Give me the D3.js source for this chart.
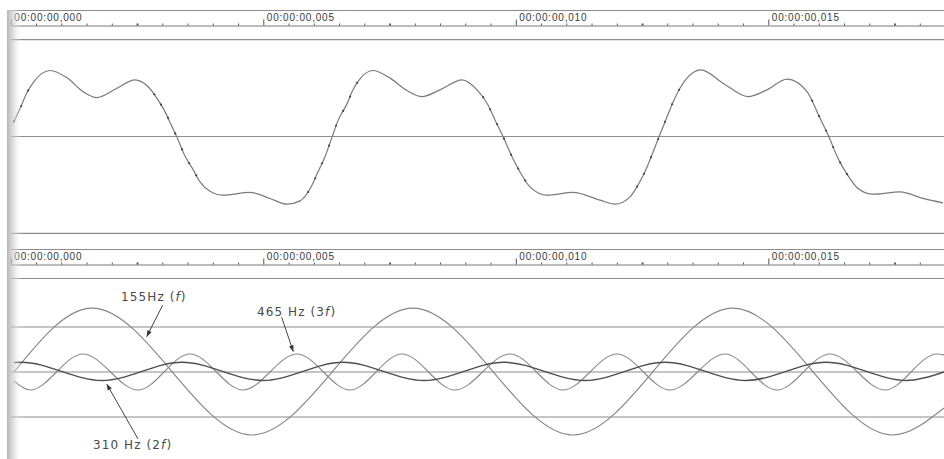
<!DOCTYPE html>
<html><head><meta charset="utf-8">
<script src="https://cdn.jsdelivr.net/npm/d3@7"></script>
<style>
html,body{margin:0;padding:0;background:#fff;}
svg{display:block;}
</style></head><body>
<svg id="chart" width="944" height="459"></svg>
<script>
// ---------- time ruler (ms) ----------
const rulerLabelTimes = [0, 5, 10, 15];
const rulerLabels = ["00:00:00,000", "00:00:00,005", "00:00:00,010", "00:00:00,015"];
const rulerMinorStep = 0.5;   // ms between small ticks
const timeDomain = [0, 18.5]; // ms visible

// ---------- top panel: composite waveform (time ms, level % of full scale) ----------
const compositeTimes = [0.044,0.196,0.321,0.459,0.776,1.113,1.430,1.701,2.103,2.459,2.717,2.915,3.053,3.192,3.291,3.450,3.608,3.747,3.945,4.202,4.737,5.133,5.469,5.727,5.964,6.083,6.222,6.360,6.479,6.657,6.776,6.915,7.172,7.509,7.846,8.143,8.499,8.935,9.232,9.430,9.588,9.749,9.925,10.083,10.281,10.618,11.133,11.667,11.964,12.261,12.418,12.557,12.695,12.834,12.992,13.133,13.251,13.667,14.103,14.598,14.974,15.370,15.766,16.004,16.202,16.380,16.558,16.776,17.073,17.608,18.063,18.459];
const compositeValues = [13.7,30.6,45.4,56.8,68.2,60.6,46.4,40.2,49.9,58.5,51.6,37.8,25.7,10.2,-0.8,-20.2,-34.0,-46.8,-56.5,-60.6,-57.8,-64.0,-69.9,-66.5,-50.3,-36.5,-20.9,-0.8,16.4,33.7,48.2,59.6,68.2,60.3,47.5,41.2,48.2,58.5,48.2,34.4,17.1,-0.2,-20.9,-36.5,-52.0,-60.6,-57.8,-65.8,-69.9,-62.4,-50.3,-36.5,-19.2,-0.5,19.9,37.8,49.9,68.9,55.1,41.2,48.2,59.3,46.4,21.2,-0.5,-22.6,-38.9,-53.7,-59.6,-57.2,-64.0,-68.6];

// ---------- bottom panel: the three partials (time ms, level %) ----------
const f155Times  = [0.063, 1.608, 4.776, 7.964, 11.133, 14.301, 17.465, 18.479];
const f155Values = [0, 71, -70, 71, -70, 71, -70, -40];

const f310Times  = [0.063, 0.202, 1.806, 3.390, 4.994, 6.578, 8.182, 9.766, 11.370, 12.954, 14.558, 16.143, 17.743, 18.479];
const f310Values = [10.5, 10.8, -9.4, 10.8, -9.4, 10.8, -9.4, 10.8, -9.4, 10.8, -9.4, 10.8, -9.4, 0];

const f465Times  = [0.063, 0.380, 1.430, 2.519, 3.549, 4.598, 5.667, 6.717, 7.747, 8.796, 9.885, 10.935, 12.004, 13.053, 14.143, 15.172, 16.222, 17.311, 18.341, 18.479];
const f465Values = [-10, -20, 20, -20, 20, -20, 20, -20, 20, -20, 20, -20, 20, -20, 20, -20, 20, -20, 20, 19];

// guide levels (%)
const topGuides = [100, 0, -100];
const bottomGuides = [50, 0, -50];

// annotations: label parts, text anchor (t, v), arrow start (t, v), arrow tip (t, v)
const annoLabels = [["155Hz (", "f", ")"], ["465 Hz (3", "f", ")"], ["310 Hz (2", "f", ")"]];
const annoText  = [[2.184, 79.2], [4.875, 62.6], [1.628, -85.6]];
const annoFrom  = [[3.008, 74.4], [5.364, 60.8], [2.519, -74.4]];
const annoTip   = [[2.691, 39.2], [5.594, 22.6], [1.899, -13.3]];

// ================= drawing =================
const W = 944, H = 459;
const svg = d3.select("#chart");
const x = d3.scaleLinear().domain(timeDomain).range([10.8, 10.8 + 18.5 * 50.5]);
const yTop = d3.scaleLinear().domain([-100, 100]).range([233.3, 39.7]);
const yBot = d3.scaleLinear().domain([-100, 100]).range([462, 282]);

const defs = svg.append("defs");
const grad = defs.append("linearGradient").attr("id", "shade").attr("x1", 0).attr("x2", 1).attr("y1", 0).attr("y2", 0);
grad.append("stop").attr("offset", "0%").attr("stop-color", "#a8a8a8").attr("stop-opacity", 0.85);
grad.append("stop").attr("offset", "45%").attr("stop-color", "#cfcfcf").attr("stop-opacity", 0.6);
grad.append("stop").attr("offset", "100%").attr("stop-color", "#ffffff").attr("stop-opacity", 0);
defs.append("marker").attr("id", "arrow").attr("viewBox", "-8 -4 9 8")
  .attr("refX", 0).attr("refY", 0).attr("markerWidth", 8).attr("markerHeight", 8)
  .attr("markerUnits", "userSpaceOnUse").attr("orient", "auto")
  .append("path").attr("d", "M0,0 L-7,-2.6 L-7,2.6 Z").attr("fill", "#333");

const LINE = "#8c8c8c";
const seq = d3.range(timeDomain[0], timeDomain[1] + 1e-6, rulerMinorStep).map(v => +v.toFixed(2));

function drawRuler(y0) {
  const g = svg.append("g");
  g.append("line").attr("x1", 11).attr("x2", W).attr("y1", y0 + 0.5).attr("y2", y0 + 0.5)
    .attr("stroke", LINE).attr("stroke-width", 1.2);
  const axis = d3.axisTop(x).tickValues(seq).tickSizeInner(2).tickSizeOuter(0)
    .tickFormat(d => { const i = rulerLabelTimes.indexOf(d); return i >= 0 ? rulerLabels[i] : ""; });
  const ax = g.append("g").attr("transform", `translate(0,${y0 + 15.5})`).call(axis);
  ax.select(".domain").attr("stroke", "#777").attr("stroke-width", 1);
  ax.selectAll(".tick line").attr("stroke", "#555")
    .attr("y2", d => rulerLabelTimes.indexOf(d) >= 0 ? -6 : -2)
    .attr("stroke-width", d => (Math.abs(d % 2.5) < 1e-6 && rulerLabelTimes.indexOf(d) < 0) ? 2 : 1);
  ax.selectAll(".tick text").attr("text-anchor", "start").attr("x", 3).attr("y", -4.5).attr("dy", 0)
    .attr("fill", "#3a3a3a").style("font-family", "'Liberation Sans', Arial, sans-serif")
    .style("font-size", "10px").style("letter-spacing", "0.8px");
  g.append("line").attr("x1", 11).attr("x2", W).attr("y1", y0 + 29.5).attr("y2", y0 + 29.5)
    .attr("stroke", LINE).attr("stroke-width", 1.2);
}

function zipPts(ts, vs) { return ts.map((t, i) => [t, vs[i]]); }

// ---- top panel ----
drawRuler(10);
svg.append("g").selectAll("line").data(topGuides).join("line")
  .attr("x1", 11).attr("x2", W).attr("y1", d => yTop(d)).attr("y2", d => yTop(d))
  .attr("stroke", LINE).attr("stroke-width", 1.2);

const lineTop = d3.line().x(d => x(d[0])).y(d => yTop(d[1])).curve(d3.curveMonotoneX);
const compPath = svg.append("path").datum(zipPts(compositeTimes, compositeValues))
  .attr("d", lineTop).attr("fill", "none").attr("stroke", "#7a7a7a").attr("stroke-width", 1.2);

// sample dots along the steep parts of the composite
(function () {
  const node = compPath.node();
  const L = node.getTotalLength();
  let prev = node.getPointAtLength(0), lastBin = Math.floor(prev.x / 7);
  const dots = [];
  for (let s = 0.5; s <= L; s += 0.5) {
    const p = node.getPointAtLength(s);
    const bin = Math.floor(p.x / 7);
    if (bin !== lastBin) {
      const dx = p.x - prev.x, dy = p.y - prev.y;
      if (Math.abs(dy) > 1.3 * Math.abs(dx)) dots.push([p.x, p.y]);
      lastBin = bin;
    }
    prev = p;
  }
  svg.append("g").selectAll("circle").data(dots).join("circle")
    .attr("cx", d => d[0]).attr("cy", d => d[1]).attr("r", 1.1).attr("fill", "#444");
})();

// ---- bottom panel ----
drawRuler(249);
svg.append("g").selectAll("line").data(bottomGuides).join("line")
  .attr("x1", 11).attr("x2", W).attr("y1", d => yBot(d)).attr("y2", d => yBot(d))
  .attr("stroke", LINE).attr("stroke-width", 1.2);

const lineBot = d3.line().x(d => x(d[0])).y(d => yBot(d[1])).curve(d3.curveMonotoneX);
svg.append("path").datum(zipPts(f155Times, f155Values)).attr("d", lineBot)
  .attr("fill", "none").attr("stroke", "#858585").attr("stroke-width", 1.15);
svg.append("path").datum(zipPts(f465Times, f465Values)).attr("d", lineBot)
  .attr("fill", "none").attr("stroke", "#8a8a8a").attr("stroke-width", 1.15);
svg.append("path").datum(zipPts(f310Times, f310Values)).attr("d", lineBot)
  .attr("fill", "none").attr("stroke", "#4e4e4e").attr("stroke-width", 1.5);

// annotations
const ag = svg.append("g");
annoLabels.forEach((parts, i) => {
  const t = ag.append("text").attr("x", x(annoText[i][0])).attr("y", yBot(annoText[i][1]))
    .attr("fill", "#4a4a4a").style("font-family", "'DejaVu Sans', Verdana, sans-serif")
    .style("font-size", "12px").style("letter-spacing", "1.1px");
  t.append("tspan").text(parts[0]);
  t.append("tspan").attr("font-style", "italic").text(parts[1]);
  t.append("tspan").text(parts[2]);
  ag.append("line")
    .attr("x1", x(annoFrom[i][0])).attr("y1", yBot(annoFrom[i][1]))
    .attr("x2", x(annoTip[i][0])).attr("y2", yBot(annoTip[i][1]))
    .attr("stroke", "#444").attr("stroke-width", 1).attr("marker-end", "url(#arrow)");
});

// scan shadow along the left edge
svg.append("rect").attr("x", 7).attr("y", 10).attr("width", 15).attr("height", H - 10)
  .attr("fill", "url(#shade)");
</script>
</body></html>
